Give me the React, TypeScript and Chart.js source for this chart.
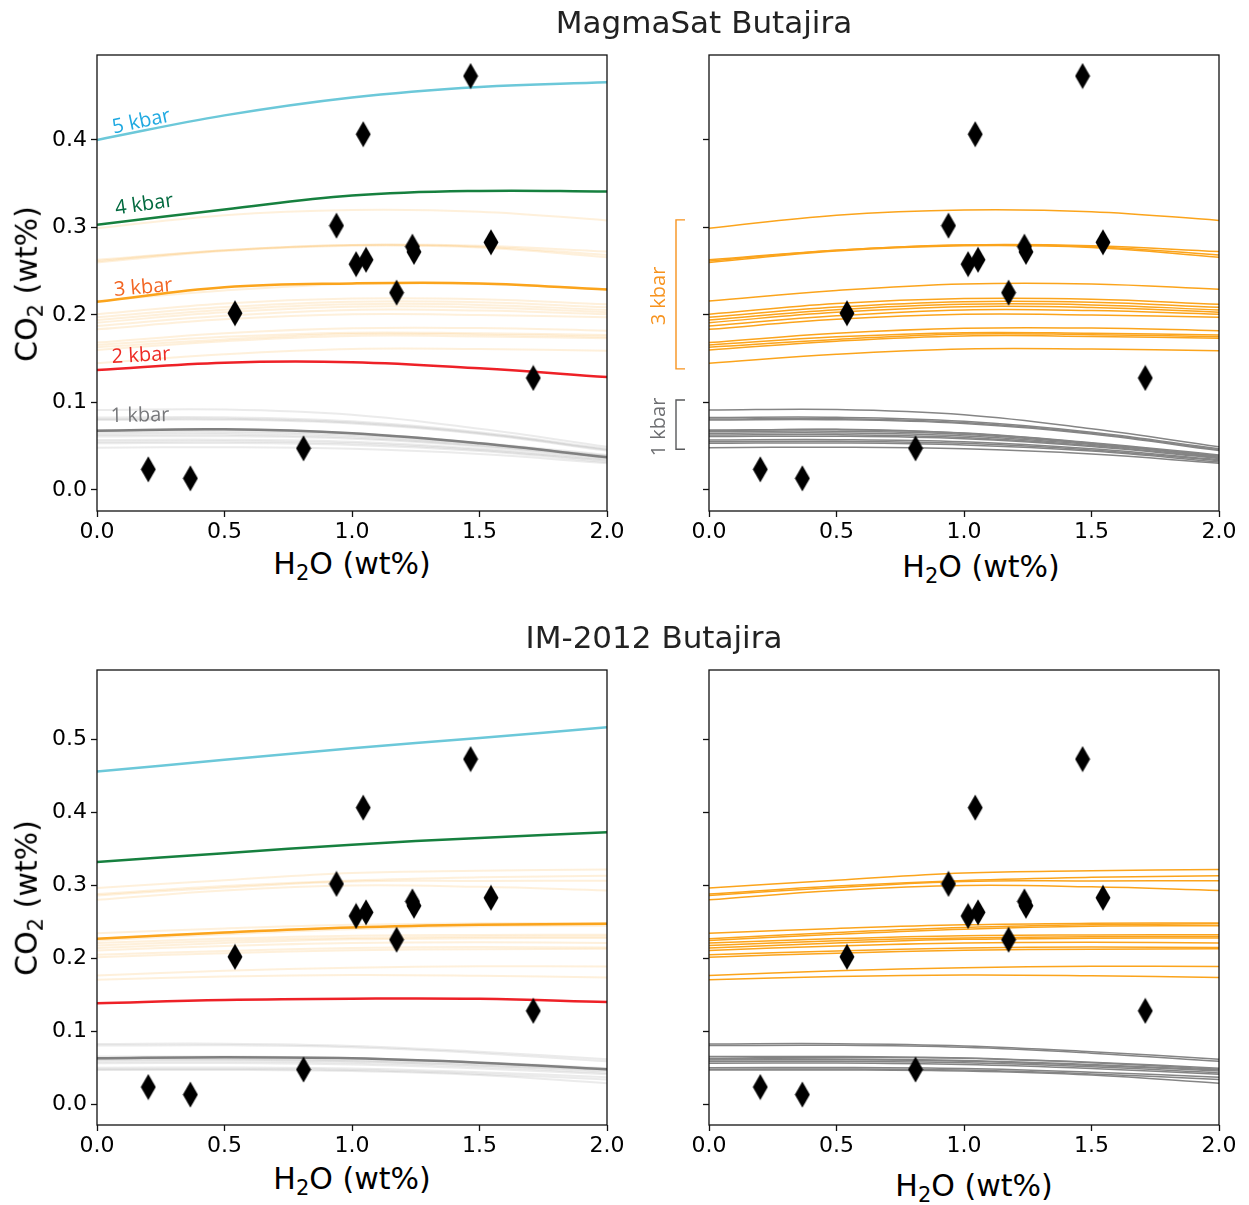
import React, { useEffect, useRef } from 'react';
import { Chart, registerables } from 'chart.js';

Chart.register(...registerables);

// ---------- data ----------
const H2O_GRID = [0, 0.5, 1.0, 1.5, 2.0];
const X_TICKS = [0, 0.5, 1.0, 1.5, 2.0];
const Y_TICKS_TOP = [0, 0.1, 0.2, 0.3, 0.4];
const Y_TICKS_BOTTOM = [0, 0.1, 0.2, 0.3, 0.4, 0.5];

// Butajira melt inclusions
const MI_H2O = [1.465, 1.044, 0.939, 1.016, 1.055, 1.237, 1.243, 1.545, 1.175, 0.541, 1.711, 0.81, 0.201, 0.366];
const MI_CO2 = [0.473, 0.4065, 0.302, 0.258, 0.263, 0.278, 0.272, 0.283, 0.2255, 0.202, 0.128, 0.0476, 0.0236, 0.0133];

// MagmaSat highlighted isobars
const MS_5KBAR = [0.4, 0.428, 0.4485, 0.4605, 0.466];
const MS_4KBAR = [0.303, 0.3205, 0.3364, 0.3417, 0.341];
const MS_3KBAR = [0.215, 0.2316, 0.236, 0.236, 0.229];
const MS_2KBAR = [0.137, 0.1455, 0.146, 0.139, 0.129];
const MS_1KBAR = [0.0678, 0.0693, 0.0648, 0.0533, 0.0373];

// MagmaSat 3 kbar ensemble
const MS_3KBAR_SET = [
  [0.299, 0.314, 0.32, 0.318, 0.308],
  [0.263, 0.274, 0.28, 0.279, 0.2724],
  [0.2617, 0.274, 0.28, 0.278, 0.2686],
  [0.26, 0.273, 0.279, 0.277, 0.266],
  [0.216, 0.228, 0.2354, 0.2354, 0.2293],
  [0.2008, 0.213, 0.2187, 0.218, 0.2122],
  [0.1974, 0.209, 0.2152, 0.2145, 0.2088],
  [0.1943, 0.206, 0.2122, 0.2115, 0.2057],
  [0.1912, 0.203, 0.2095, 0.2085, 0.2031],
  [0.1874, 0.199, 0.2057, 0.205, 0.2008],
  [0.1836, 0.195, 0.2008, 0.2, 0.1974],
  [0.1684, 0.179, 0.1848, 0.185, 0.182],
  [0.1657, 0.175, 0.1798, 0.179, 0.177],
  [0.1631, 0.172, 0.1783, 0.1775, 0.1752],
  [0.16, 0.17, 0.176, 0.1755, 0.1734],
  [0.1448, 0.155, 0.1611, 0.161, 0.1592],
];

// MagmaSat 1 kbar ensemble
const MS_1KBAR_SET = [
  [0.0914, 0.092, 0.086, 0.07, 0.0495],
  [0.0827, 0.083, 0.0785, 0.066, 0.047],
  [0.0811, 0.0815, 0.077, 0.0648, 0.046],
  [0.08, 0.0803, 0.076, 0.064, 0.045],
  [0.0686, 0.069, 0.065, 0.054, 0.04],
  [0.0678, 0.0693, 0.0648, 0.0533, 0.0373],
  [0.0667, 0.0672, 0.0635, 0.053, 0.039],
  [0.0648, 0.0652, 0.0618, 0.052, 0.0385],
  [0.0629, 0.0633, 0.06, 0.0508, 0.037],
  [0.061, 0.0614, 0.0585, 0.0497, 0.036],
  [0.0571, 0.0575, 0.055, 0.047, 0.0345],
  [0.0552, 0.0556, 0.0533, 0.0458, 0.0335],
  [0.0533, 0.0537, 0.0515, 0.0445, 0.032],
  [0.0484, 0.0488, 0.047, 0.041, 0.0305],
];

// IM-2012 highlighted isobars
const IM_5KBAR = [0.456, 0.472, 0.488, 0.502, 0.5166];
const IM_4KBAR = [0.332, 0.344, 0.3557, 0.365, 0.3726];
const IM_3KBAR = [0.2268, 0.2354, 0.2423, 0.246, 0.2473];
const IM_2KBAR = [0.1385, 0.143, 0.1447, 0.1445, 0.14];
const IM_1KBAR = [0.063, 0.0645, 0.063, 0.057, 0.048];

// IM-2012 3 kbar ensemble
const IM_3KBAR_SET = [
  [0.2963, 0.307, 0.3169, 0.32, 0.3218],
  [0.288, 0.299, 0.3067, 0.311, 0.3132],
  [0.2862, 0.297, 0.3054, 0.306, 0.3063],
  [0.2802, 0.293, 0.2999, 0.298, 0.293],
  [0.2345, 0.241, 0.246, 0.248, 0.2483],
  [0.2268, 0.2354, 0.2423, 0.246, 0.2473],
  [0.2245, 0.233, 0.24, 0.244, 0.2446],
  [0.2209, 0.227, 0.231, 0.232, 0.2322],
  [0.2176, 0.224, 0.228, 0.2295, 0.2299],
  [0.214, 0.221, 0.226, 0.2275, 0.2277],
  [0.2107, 0.217, 0.221, 0.222, 0.2209],
  [0.2048, 0.21, 0.214, 0.2155, 0.2148],
  [0.2016, 0.207, 0.211, 0.2125, 0.213],
  [0.1764, 0.183, 0.187, 0.189, 0.1888],
  [0.1705, 0.175, 0.177, 0.176, 0.1737],
];

// IM-2012 1 kbar ensemble
const IM_1KBAR_SET = [
  [0.0827, 0.083, 0.08, 0.072, 0.0617],
  [0.0804, 0.0808, 0.078, 0.07, 0.059],
  [0.0653, 0.0656, 0.0635, 0.0575, 0.0495],
  [0.063, 0.0645, 0.063, 0.057, 0.048],
  [0.062, 0.0622, 0.06, 0.0545, 0.047],
  [0.0608, 0.061, 0.059, 0.0533, 0.0455],
  [0.0585, 0.0588, 0.0568, 0.0513, 0.043],
  [0.0562, 0.0565, 0.0545, 0.049, 0.041],
  [0.0502, 0.0505, 0.049, 0.044, 0.037],
  [0.048, 0.0483, 0.0468, 0.0415, 0.034],
  [0.047, 0.047, 0.0455, 0.04, 0.0288],
];

// bracket annotation ranges (CO2 wt%) in the right MagmaSat panel
const BRACKET_3KBAR = [0.1384, 0.3086];
const BRACKET_1KBAR = [0.0465, 0.1029];

// ---------- styles ----------
const C_CYAN = '#6cc8d9';
const C_GREEN = '#16803f';
const C_ORANGE = '#fba41c';
const C_RED = '#ee2127';
const C_GREY = '#808080';
const FAINT_ORANGE = 'rgba(251,164,28,0.16)';
const FAINT_GREY = 'rgba(128,128,128,0.16)';
const FONT = "'DejaVu Sans', sans-serif";

let diamondCache: HTMLCanvasElement | null = null;
function diamond(): HTMLCanvasElement {
  if (diamondCache) return diamondCache;
  const c = document.createElement('canvas');
  c.width = 16;
  c.height = 27;
  const g = c.getContext('2d')!;
  g.fillStyle = '#000';
  g.beginPath();
  g.moveTo(8, 0.5);
  g.lineTo(15.5, 13.5);
  g.lineTo(8, 26.5);
  g.lineTo(0.5, 13.5);
  g.closePath();
  g.fill();
  diamondCache = c;
  return c;
}

const pts = (ys: number[]) => H2O_GRID.map((x, i) => ({ x, y: ys[i] }));

function line(ys: number[], color: string, width: number, order: number) {
  return {
    data: pts(ys),
    borderColor: color,
    borderWidth: width,
    pointRadius: 0,
    tension: 0.4,
    fill: false,
    order,
  };
}

function miDataset() {
  return {
    data: MI_H2O.map((x, i) => ({ x, y: MI_CO2[i] })),
    showLine: false,
    pointStyle: diamond(),
    pointRadius: 13,
    backgroundColor: '#000',
    borderWidth: 0,
    order: 0,
  };
}

type Rect = { left: number; top: number; width: number; height: number };
type PanelProps = {
  canvas: Rect;
  plot: { left: number; top: number; right: number; bottom: number };
  yMin: number;
  yMax: number;
  yTicks: number[];
  yLabels: boolean;
  build: () => any[];
  brackets?: { range: number[]; color: string }[];
};

function Panel(p: PanelProps) {
  const ref = useRef<HTMLCanvasElement>(null);
  useEffect(() => {
    const framePlugin = {
      id: 'frame',
      afterDatasetsDraw(chart: any) {
        const { ctx, chartArea: a } = chart;
        ctx.save();
        ctx.strokeStyle = '#111';
        ctx.lineWidth = 1.3;
        ctx.strokeRect(a.left, a.top, a.right - a.left, a.bottom - a.top);
        if (p.brackets) {
          const ys = chart.scales.y;
          ctx.lineWidth = 1.4;
          for (const b of p.brackets) {
            const y0 = ys.getPixelForValue(b.range[1]);
            const y1 = ys.getPixelForValue(b.range[0]);
            const xv = a.left - 33;
            const xt = a.left - 24;
            ctx.strokeStyle = b.color;
            ctx.beginPath();
            ctx.moveTo(xt, y0);
            ctx.lineTo(xv, y0);
            ctx.lineTo(xv, y1);
            ctx.lineTo(xt, y1);
            ctx.stroke();
          }
        }
        ctx.restore();
      },
    };
    const tickFont = { family: FONT, size: 22 };
    const grid = {
      display: true,
      drawOnChartArea: false,
      drawTicks: true,
      tickLength: 6,
      tickWidth: 1.3,
      tickColor: '#111',
    };
    const c = p.canvas;
    const chart = new Chart(ref.current!, {
      type: 'line',
      data: { datasets: p.build() },
      options: {
        animation: false,
        responsive: false,
        maintainAspectRatio: false,
        events: [],
        layout: {
          padding: {
            top: p.plot.top - c.top,
            right: c.left + c.width - p.plot.right,
            left: 0,
            bottom: 0,
          },
        },
        plugins: { legend: { display: false }, tooltip: { enabled: false } },
        scales: {
          x: {
            type: 'linear',
            min: 0,
            max: 2,
            afterBuildTicks: (s: any) => {
              s.ticks = X_TICKS.map((v) => ({ value: v }));
            },
            afterFit: (s: any) => {
              s.height = c.top + c.height - p.plot.bottom;
            },
            ticks: {
              callback: (v: any) => Number(v).toFixed(1),
              font: tickFont,
              color: '#000',
              padding: 2,
              maxRotation: 0,
              autoSkip: false,
            },
            grid,
            border: { display: false },
          },
          y: {
            type: 'linear',
            min: p.yMin,
            max: p.yMax,
            afterBuildTicks: (s: any) => {
              s.ticks = p.yTicks.map((v) => ({ value: v }));
            },
            afterFit: (s: any) => {
              s.width = p.plot.left - c.left;
            },
            ticks: {
              callback: (v: any) => (p.yLabels ? Number(v).toFixed(1) : ''),
              font: tickFont,
              color: '#000',
              padding: 4,
              autoSkip: false,
            },
            grid,
            border: { display: false },
          },
        },
      } as any,
      plugins: [framePlugin],
    });
    return () => chart.destroy();
  }, []);
  const c = p.canvas;
  return (
    <canvas
      ref={ref}
      width={c.width}
      height={c.height}
      style={{ position: 'absolute', left: c.left, top: c.top, width: c.width, height: c.height }}
    />
  );
}

// ---------- dataset builders ----------
const buildMSLeft = () => [
  miDataset(),
  line(MS_5KBAR, C_CYAN, 2.5, 1),
  line(MS_4KBAR, C_GREEN, 2.5, 1),
  line(MS_3KBAR, C_ORANGE, 2.5, 1),
  line(MS_2KBAR, C_RED, 2.5, 1),
  line(MS_1KBAR, C_GREY, 2.5, 1),
  ...MS_3KBAR_SET.map((s) => line(s, FAINT_ORANGE, 2, 2)),
  ...MS_1KBAR_SET.map((s) => line(s, FAINT_GREY, 2, 2)),
];
const buildMSRight = () => [
  miDataset(),
  ...MS_3KBAR_SET.map((s) => line(s, C_ORANGE, 1.5, 2)),
  ...MS_1KBAR_SET.map((s) => line(s, '#858585', 1.5, 2)),
];
const buildIMLeft = () => [
  miDataset(),
  line(IM_5KBAR, C_CYAN, 2.5, 1),
  line(IM_4KBAR, C_GREEN, 2.5, 1),
  line(IM_3KBAR, C_ORANGE, 2.5, 1),
  line(IM_2KBAR, C_RED, 2.5, 1),
  line(IM_1KBAR, C_GREY, 2.5, 1),
  ...IM_3KBAR_SET.map((s) => line(s, FAINT_ORANGE, 2, 2)),
  ...IM_1KBAR_SET.map((s) => line(s, FAINT_GREY, 2, 2)),
];
const buildIMRight = () => [
  miDataset(),
  ...IM_3KBAR_SET.map((s) => line(s, C_ORANGE, 1.5, 2)),
  ...IM_1KBAR_SET.map((s) => line(s, '#858585', 1.5, 2)),
];

// ---------- text helpers ----------
function Text(props: {
  x: number;
  y: number;
  rot?: number;
  size: number;
  color?: string;
  family?: string;
  children: any;
}) {
  return (
    <div
      style={{
        position: 'absolute',
        left: props.x,
        top: props.y,
        transform: `translate(-50%, -50%) rotate(${props.rot || 0}deg)`,
        fontFamily: props.family || FONT,
        fontSize: props.size,
        color: props.color || '#000',
        whiteSpace: 'nowrap',
        lineHeight: 1.15,
      }}
    >
      {props.children}
    </div>
  );
}

const Sub = ({ children }: { children: any }) => (
  <sub style={{ fontSize: '0.7em', verticalAlign: '-0.28em', lineHeight: 0 }}>{children}</sub>
);

const H2OLabel = () => (
  <>
    H<Sub>2</Sub>O (wt%)
  </>
);
const CO2Label = () => (
  <>
    CO<Sub>2</Sub> (wt%)
  </>
);

const LABEL_FONT = "'Open Sans', 'Noto Sans', sans-serif";

export default function App() {
  return (
    <div
      style={{
        position: 'absolute',
        left: 0,
        top: 0,
        width: 1249,
        height: 1205,
        background: '#fff',
        overflow: 'hidden',
      }}
    >
      <Panel
        canvas={{ left: 0, top: 25, width: 640, height: 520 }}
        plot={{ left: 97, top: 55, right: 607, bottom: 511 }}
        yMin={-0.024}
        yMax={0.497}
        yTicks={Y_TICKS_TOP}
        yLabels={true}
        build={buildMSLeft}
      />
      <Panel
        canvas={{ left: 640, top: 25, width: 609, height: 520 }}
        plot={{ left: 709, top: 55, right: 1219, bottom: 511 }}
        yMin={-0.024}
        yMax={0.497}
        yTicks={Y_TICKS_TOP}
        yLabels={false}
        build={buildMSRight}
        brackets={[
          { range: BRACKET_3KBAR, color: '#f7931e' },
          { range: BRACKET_1KBAR, color: '#58595b' },
        ]}
      />
      <Panel
        canvas={{ left: 0, top: 640, width: 640, height: 520 }}
        plot={{ left: 97, top: 670, right: 607, bottom: 1125 }}
        yMin={-0.0284}
        yMax={0.5951}
        yTicks={Y_TICKS_BOTTOM}
        yLabels={true}
        build={buildIMLeft}
      />
      <Panel
        canvas={{ left: 640, top: 640, width: 609, height: 520 }}
        plot={{ left: 709, top: 670, right: 1219, bottom: 1125 }}
        yMin={-0.0284}
        yMax={0.5951}
        yTicks={Y_TICKS_BOTTOM}
        yLabels={false}
        build={buildIMRight}
      />

      {/* titles */}
      <Text x={704} y={23} size={31} color="#222">
        MagmaSat Butajira
      </Text>
      <Text x={654} y={638} size={31} color="#222">
        IM-2012 Butajira
      </Text>

      {/* axis titles */}
      <Text x={352} y={564} size={30}>
        <H2OLabel />
      </Text>
      <Text x={981} y={567} size={30}>
        <H2OLabel />
      </Text>
      <Text x={352} y={1179} size={30}>
        <H2OLabel />
      </Text>
      <Text x={974} y={1186} size={30}>
        <H2OLabel />
      </Text>
      <Text x={27} y={284} rot={-90} size={30}>
        <CO2Label />
      </Text>
      <Text x={27} y={898} rot={-90} size={30}>
        <CO2Label />
      </Text>

      {/* isobar labels, MagmaSat left */}
      <Text x={141} y={120} rot={-12} size={20} color="#1fa9e1" family={LABEL_FONT}>
        5 kbar
      </Text>
      <Text x={144} y={203} rot={-8} size={20} color="#00693e" family={LABEL_FONT}>
        4 kbar
      </Text>
      <Text x={143} y={286} rot={-5} size={20} color="#f26522" family={LABEL_FONT}>
        3 kbar
      </Text>
      <Text x={141} y={354} rot={-3} size={20} color="#ee2a24" family={LABEL_FONT}>
        2 kbar
      </Text>
      <Text x={140} y={414} rot={-1} size={20} color="#77787b" family={LABEL_FONT}>
        1 kbar
      </Text>

      {/* bracket labels, MagmaSat right */}
      <Text x={657} y={296} rot={-90} size={20} color="#f7931e" family={LABEL_FONT}>
        3 kbar
      </Text>
      <Text x={657} y={427} rot={-90} size={20} color="#6d6e71" family={LABEL_FONT}>
        1 kbar
      </Text>
    </div>
  );
}
